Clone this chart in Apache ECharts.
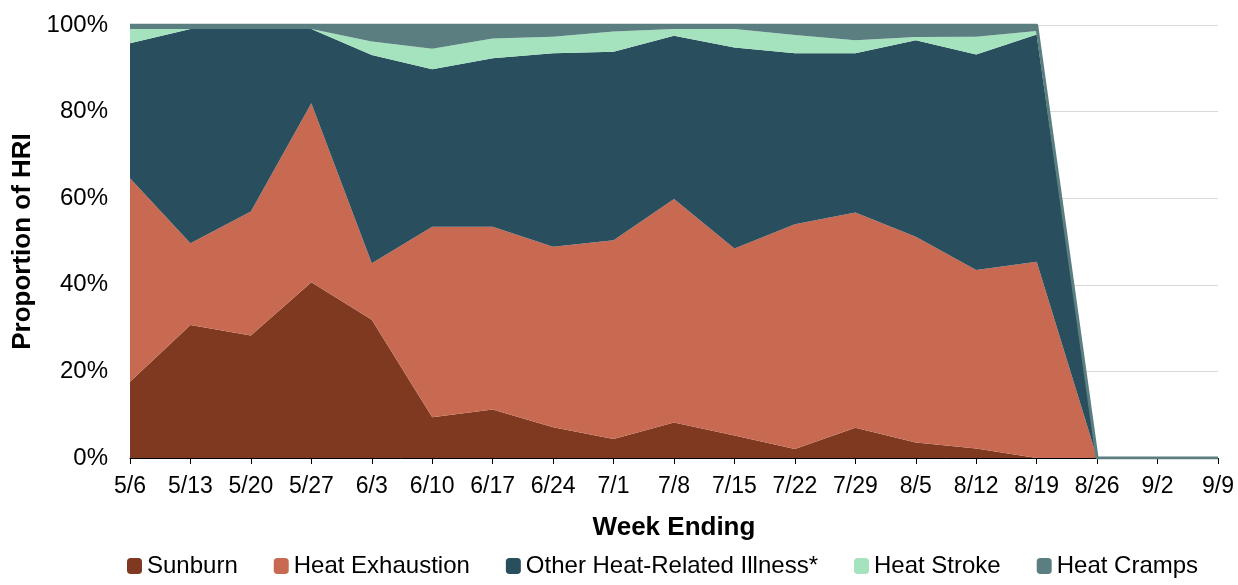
<!DOCTYPE html>
<html>
<head>
<meta charset="utf-8">
<script src="https://cdn.jsdelivr.net/npm/echarts@6/dist/echarts.min.js"></script>
<style>
  html, body { margin: 0; padding: 0; background: #fff; }
  #chart { width: 1238px; height: 585px; }
</style>
</head>
<body>
<div id="chart"></div>
<script>
// week ending dates
const weeks = ['5/6', '5/13', '5/20', '5/27', '6/3', '6/10', '6/17', '6/24', '7/1', '7/8',
  '7/15', '7/22', '7/29', '8/5', '8/12', '8/19', '8/26', '9/2', '9/9']

// proportion of HRI (%) per category
const sunburn = [17.6, 30.7, 28.3, 40.6, 31.9, 9.4, 11.2, 7.1, 4.4, 8.2, 5.2, 2.1, 7.0, 3.6, 2.2, 0, 0, 0, 0]
const heatExhaustion = [47.0, 18.9, 28.6, 41.3, 13.1, 44.0, 42.2, 41.7, 45.9, 51.6, 43.2, 51.9, 49.7, 47.5, 41.2, 45.3, 0, 0, 0]
const otherHri = [31.2, 49.5, 42.2, 17.2, 48.1, 36.4, 38.9, 44.7, 43.5, 37.7, 46.4, 39.5, 36.8, 45.4, 49.8, 52.5, 0, 0, 0]
const heatStroke = [3.3, 0, 0, 0, 3.1, 4.7, 4.6, 3.8, 4.7, 1.6, 4.3, 4.2, 3.0, 0.7, 4.1, 0.8, 0, 0, 0]
const heatCramps = [0.9, 0.9, 0.9, 0.9, 3.8, 5.5, 3.1, 2.7, 1.5, 0.9, 0.9, 2.3, 3.5, 2.8, 2.7, 1.4, 0, 0, 0]

const yTicks = [0, 20, 40, 60, 80, 100]

const FONT = 'Liberation Sans, Arial, sans-serif'

function areaSeries(name, data, color, lineWidth) {
  return {
    name,
    type: 'line',
    stack: 'hri',
    data,
    symbol: 'none',
    areaStyle: { color, opacity: 1 },
    lineStyle: { width: lineWidth, color },
    itemStyle: { color },
    emphasis: { disabled: true }
  }
}

const chart = echarts.init(document.getElementById('chart'))
chart.setOption({
  animation: false,
  textStyle: { fontFamily: FONT },
  grid: { left: 130, right: 20, top: 25, bottom: 127 },
  legend: {
    bottom: 2,
    left: 122,
    icon: 'roundRect',
    itemWidth: 15,
    itemHeight: 16,
    itemGap: 36,
    textStyle: { fontSize: 24, color: '#000', fontFamily: FONT },
    data: ['Sunburn', 'Heat Exhaustion', 'Other Heat-Related Illness*', 'Heat Stroke', 'Heat Cramps']
  },
  xAxis: {
    type: 'category',
    data: weeks,
    boundaryGap: false,
    name: 'Week Ending',
    nameLocation: 'middle',
    nameGap: 57,
    nameTextStyle: { fontSize: 26, fontWeight: 'bold', color: '#000' },
    axisLine: { lineStyle: { color: '#000', width: 1 } },
    axisTick: { show: true, length: 6, lineStyle: { color: '#000' } },
    axisLabel: { fontSize: 23, color: '#000', margin: 17 }
  },
  yAxis: {
    type: 'value',
    min: yTicks[0],
    max: yTicks[yTicks.length - 1],
    interval: 20,
    name: 'Proportion of HRI',
    nameLocation: 'middle',
    nameGap: 92,
    nameTextStyle: { fontSize: 26, fontWeight: 'bold', color: '#000' },
    axisLine: { show: false },
    axisTick: { show: false },
    axisLabel: { fontSize: 24, color: '#000', margin: 22, formatter: '{value}%' },
    splitLine: { lineStyle: { color: '#d9d9d9', width: 1 } }
  },
  series: [
    areaSeries('Sunburn', sunburn, '#7f3920', 0),
    areaSeries('Heat Exhaustion', heatExhaustion, '#c86a52', 0),
    areaSeries('Other Heat-Related Illness*', otherHri, '#294e5e', 0),
    areaSeries('Heat Stroke', heatStroke, '#a5e3bf', 0),
    areaSeries('Heat Cramps', heatCramps, '#5b7e81', 3)
  ]
})
</script>
</body>
</html>
